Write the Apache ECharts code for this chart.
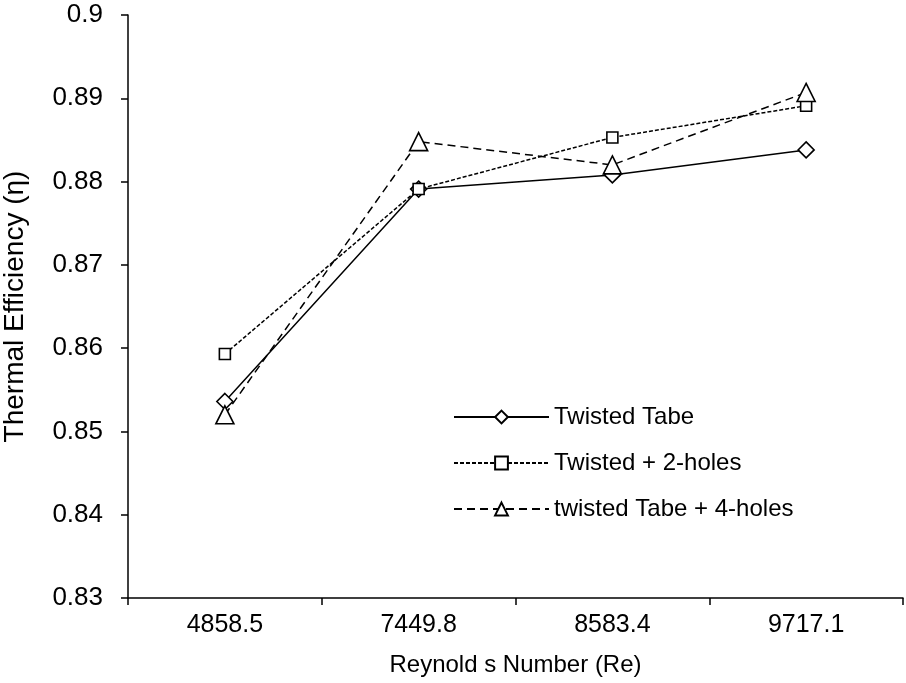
<!DOCTYPE html>
<html><head><meta charset="utf-8">
<script src="https://cdn.jsdelivr.net/npm/echarts@6/dist/echarts.min.js"></script>
<style>html,body{margin:0;padding:0;background:#fff}#c{width:906px;height:683px}</style>
</head><body><div id="c"></div>
<script>
const categories = ['4858.5', '7449.8', '8583.4', '9717.1'];
const twistedTabe = [0.8536, 0.8791, 0.8808, 0.8838];
const twisted2Holes = [0.8593, 0.8791, 0.8853, 0.8891];
const twisted4Holes = [0.8520, 0.8848, 0.8820, 0.8907];
const seriesNames = ['Twisted Tabe', 'Twisted + 2-holes', 'twisted Tabe + 4-holes'];

const font = 'Liberation Sans, Arial, sans-serif';
const chart = echarts.init(document.getElementById('c'));
const mk = (name, data, symbol, size, dash) => ({
  name, type: 'line', data, symbol, symbolSize: size,
  lineStyle: { color: '#000', width: 1.5, type: dash },
  itemStyle: { color: '#fff', borderColor: '#000', borderWidth: 1.6 },
  emphasis: { disabled: true }, animation: false
});
chart.setOption({
  backgroundColor: '#fff',
  animation: false,
  grid: { left: 128, top: 15, right: 3, bottom: 85, containLabel: false, outerBoundsMode: 'none' },
  legend: {
    orient: 'vertical', left: 448, top: 400, itemGap: 22,
    itemWidth: 95, itemHeight: 16,
    textStyle: { fontFamily: font, fontSize: 24, color: '#000' },
    data: seriesNames
  },
  xAxis: {
    type: 'category', data: categories,
    axisLine: { lineStyle: { color: '#000', width: 1.5 } },
    axisTick: { show: true, length: 7, lineStyle: { color: '#000', width: 1.5 } },
    axisLabel: { color: '#000', fontFamily: font, fontSize: 25, margin: 15 },
    name: 'Reynold s Number (Re)', nameLocation: 'middle', nameGap: 55,
    nameTextStyle: { color: '#000', fontFamily: font, fontSize: 24 }
  },
  yAxis: {
    type: 'value', min: 0.83, max: 0.9, interval: 0.01,
    axisLine: { show: true, lineStyle: { color: '#000', width: 1.5 } },
    axisTick: { show: true, length: 7, lineStyle: { color: '#000', width: 1.5 } },
    splitLine: { show: false },
    axisLabel: { color: '#000', fontFamily: font, fontSize: 26, margin: 25,
      formatter: v => String(parseFloat(v.toFixed(3))) },
    name: 'Thermal Efficiency (η)', nameLocation: 'middle', nameGap: 99,
    nameTextStyle: { color: '#000', fontFamily: font, fontSize: 28 }
  },
  series: [
    mk(seriesNames[0], twistedTabe, 'diamond', 16, 'solid'),
    mk(seriesNames[1], twisted2Holes, 'rect', 11, [4, 2]),
    mk(seriesNames[2], twisted4Holes, 'triangle', 18, [8, 5])
  ]
});
</script></body></html>
